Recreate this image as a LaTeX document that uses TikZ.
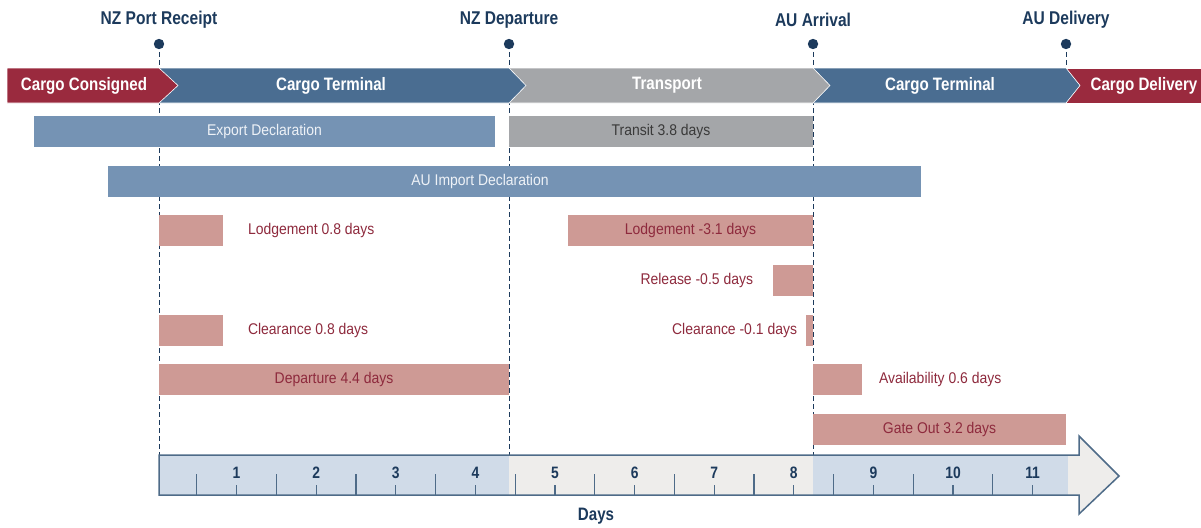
\documentclass[tikz,border=0pt]{standalone}
\usepackage{fontspec}
\setmainfont{Liberation Sans}[FakeStretch=0.9]
\newfontfamily\condb{Liberation Sans}[FakeStretch=0.84]
\definecolor{bandred}{HTML}{9A2A3E}
\definecolor{bandblue}{HTML}{4A6D91}
\definecolor{bandgray}{HTML}{A4A6A9}
\definecolor{steel}{HTML}{7593B4}
\definecolor{pinkbar}{HTML}{CE9A95}
\definecolor{pinktxt}{HTML}{8E2A3D}
\definecolor{darktxt}{HTML}{3A3A3A}
\definecolor{navy}{HTML}{1C3A5C}
\definecolor{axblue}{HTML}{D0DBE8}
\definecolor{axgray}{HTML}{EEEDEB}
\definecolor{axline}{HTML}{4E6B88}
\definecolor{paletxt}{HTML}{EEF2F7}
\begin{document}
\begin{tikzpicture}[x=1pt,y=-1pt,
  every node/.style={inner sep=0pt, outer sep=0pt},
  band/.style={fill=#1, draw=white, line width=0.6pt},
  bandtxt/.style={text=white, font=\condb\bfseries\fontsize{18}{21}\selectfont},
  ms/.style={text=navy, font=\condb\bfseries\fontsize{18.5}{22}\selectfont},
  msline/.style={navy, line width=1pt, dash pattern=on 5pt off 3pt},
  bar/.style={fill=#1, minimum height=31pt, anchor=west},
  smalltxt/.style={font=\fontsize{15.5}{18}\selectfont, text height=11pt, text depth=3pt},
  pinklbl/.style={smalltxt, text=pinktxt},
  axnum/.style={text=navy, font=\condb\bfseries\fontsize{16.5}{19}\selectfont},
  tick/.style={axline, line width=1.3pt}]
\useasboundingbox (0,0) rectangle (1201,527);

% milestones
\node[ms] (m1) at (159,20) {NZ Port Receipt};
\node[ms] (m2) at (509,20) {NZ Departure};
\node[ms] (m3) at (813,20) {AU Arrival};
\node[ms] (m4) at (1066,20) {AU Delivery};
\coordinate (d1) at (159,44); \coordinate (e1) at (159,455);
\coordinate (d2) at (509,44); \coordinate (e2) at (509,455);
\coordinate (d3) at (813,44); \coordinate (e3) at (813,455);
\coordinate (d4) at (1066,44); \coordinate (e4) at (1066,68);
\draw[msline] (d1) -- (e1);
\draw[msline] (d2) -- (e2);
\draw[msline] (d3) -- (e3);
\draw[msline] (d4) -- (e4);
\foreach \p in {d1,d2,d3,d4} \fill[navy] (\p) circle (5.2);

% phase band
\path[band=bandred] (1066,68) -- (1201,68) -- (1201,103) -- (1066,103) -- cycle;
\path[band=bandblue] (813,68) -- (1066,68) -- (1080,85.5) -- (1066,103) -- (813,103) -- cycle;
\path[band=bandgray] (509,68) -- (813,68) -- (830,85.5) -- (813,103) -- (509,103) -- cycle;
\path[band=bandblue] (159,68) -- (509,68) -- (526,85.5) -- (509,103) -- (159,103) -- cycle;
\path[band=bandred] (7,68) -- (159,68) -- (178,85.5) -- (159,103) -- (7,103) -- cycle;
\node[bandtxt] (p1) at (84,85.5) {Cargo Consigned};
\node[bandtxt] (p2) at (331,85.5) {Cargo Terminal};
\node[bandtxt] (p3) at (667,85.5) {Transport};
\node[bandtxt] (p4) at (940,85.5) {Cargo Terminal};
\node[bandtxt] (p5) at (1144,85.5) {Cargo Delivery};

% declarations
\node[bar=steel, minimum width=461pt, smalltxt, text=paletxt] (exp) at (34,131.5) {Export Declaration};
\node[bar=bandgray, minimum width=304pt, smalltxt, text=darktxt] (tra) at (509,131.5) {Transit 3.8 days};
\node[bar=steel, minimum width=813pt] (imp) at (108,181) {};
\node[smalltxt, text=paletxt] (impt) at (480,181) {AU Import Declaration};

% pink activity bars
\node[bar=pinkbar, minimum width=64pt] (lod1) at (159,230) {};
\node[pinklbl, anchor=west] (lod1t) at (248,230) {Lodgement 0.8 days};
\node[bar=pinkbar, minimum width=245pt, pinklbl] (lod2) at (568,230) {Lodgement -3.1 days};
\node[bar=pinkbar, minimum width=40pt] (rel) at (773,280) {};
\node[pinklbl, anchor=east] (relt) at (753,280) {Release -0.5 days};
\node[bar=pinkbar, minimum width=64pt] (clr1) at (159,330) {};
\node[pinklbl, anchor=west] (clr1t) at (248,330) {Clearance 0.8 days};
\node[bar=pinkbar, minimum width=7pt] (clr2) at (806,330) {};
\node[pinklbl, anchor=east] (clr2t) at (797,330) {Clearance -0.1 days};
\node[bar=pinkbar, minimum width=350pt, pinklbl] (dep) at (159,379) {Departure 4.4 days};
\node[bar=pinkbar, minimum width=49pt] (ava) at (813,379) {};
\node[pinklbl, anchor=west] (avat) at (879,379) {Availability 0.6 days};
\node[bar=pinkbar, minimum width=253pt, pinklbl] (gat) at (813,429) {Gate Out 3.2 days};

% axis arrow
\fill[axgray] (159,455) -- (1079,455) -- (1079,436) -- (1119,476) -- (1079,514) -- (1079,495) -- (159,495) -- cycle;
\fill[axblue] (159,455) rectangle (509,495);
\fill[axblue] (813,455) rectangle (1068,495);
\draw[axline, line width=1.5pt, line join=miter] (159,455) -- (1079,455) -- (1079,436) -- (1119,476) -- (1079,514) -- (1079,495) -- (159,495) -- cycle;
\foreach \i in {1,...,11} {
  \draw[tick] ({157+79.6*\i},485) -- ({157+79.6*\i},495);
  \node[axnum] (n\i) at ({157+79.6*\i},473) {\i};
}
\foreach \i in {0,...,10}
  \draw[tick] ({157+79.6*(\i+0.5)},474) -- ({157+79.6*(\i+0.5)},495);
\node[text=navy, font=\condb\bfseries\fontsize{18}{21}\selectfont] (days) at (596,516) {Days};
\end{tikzpicture}
\end{document}
